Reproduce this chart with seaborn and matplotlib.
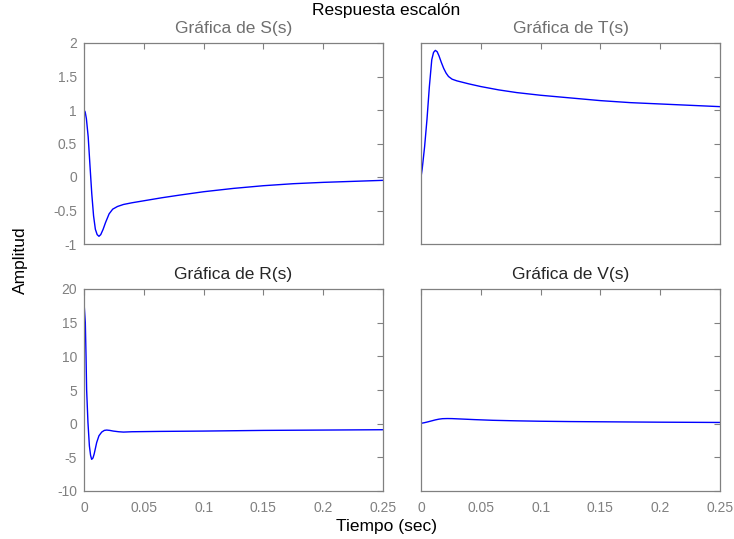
import numpy as np
import seaborn as sns
import matplotlib
matplotlib.use("Agg")
import matplotlib.pyplot as plt

t_s = [0, 0.001, 0.002, 0.0035, 0.005, 0.0065, 0.008, 0.0095, 0.011, 0.0125,
       0.014, 0.016, 0.018, 0.021, 0.024, 0.028, 0.033, 0.04, 0.05, 0.065,
       0.08, 0.1, 0.125, 0.15, 0.175, 0.2, 0.225, 0.25]
y_s = [1.0, 0.97, 0.87, 0.6, 0.17, -0.25, -0.58, -0.78, -0.86, -0.885,
       -0.86, -0.78, -0.68, -0.55, -0.48, -0.44, -0.41, -0.385, -0.355, -0.31,
       -0.27, -0.22, -0.17, -0.13, -0.10, -0.08, -0.065, -0.05]

t_t = [0, 0.001, 0.003, 0.005, 0.007, 0.009, 0.0105, 0.012, 0.0135, 0.015,
       0.017, 0.019, 0.021, 0.023, 0.026, 0.03, 0.04, 0.05, 0.065, 0.08,
       0.1, 0.125, 0.15, 0.175, 0.2, 0.225, 0.25]
y_t = [0, 0.12, 0.45, 0.86, 1.35, 1.75, 1.86, 1.89, 1.87, 1.81,
       1.71, 1.62, 1.55, 1.50, 1.46, 1.435, 1.39, 1.35, 1.30, 1.26,
       1.22, 1.18, 1.14, 1.11, 1.09, 1.07, 1.05]

t_r = [0, 0.0011, 0.0017, 0.0022, 0.0033, 0.0045, 0.0055, 0.0064, 0.0075,
       0.0085, 0.0095, 0.0106, 0.0125, 0.0148, 0.017, 0.019, 0.0215, 0.0245,
       0.029, 0.033, 0.04, 0.063, 0.1, 0.15, 0.2, 0.25]
y_r = [18.0, 15.0, 10.0, 5.0, 0.2, -3.3, -4.7, -5.3, -5.1,
       -4.5, -3.7, -2.8, -1.8, -1.25, -1.0, -0.95, -1.0, -1.1,
       -1.2, -1.25, -1.2, -1.15, -1.1, -1.0, -0.95, -0.9]

t_v = [0, 0.003, 0.006, 0.009, 0.012, 0.015, 0.018, 0.022, 0.026, 0.035,
       0.045, 0.06, 0.08, 0.1, 0.125, 0.15, 0.175, 0.2, 0.225, 0.25]
y_v = [0.05, 0.15, 0.28, 0.42, 0.56, 0.67, 0.74, 0.76, 0.75, 0.68,
       0.6, 0.5, 0.42, 0.36, 0.31, 0.28, 0.25, 0.22, 0.2, 0.18]

x_ticks = [0, 0.05, 0.1, 0.15, 0.2, 0.25]
x_labels = ["0", "0.05", "0.1", "0.15", "0.2", "0.25"]
top_ticks = [-1, -0.5, 0, 0.5, 1, 1.5, 2]
top_labels = ["-1", "-0.5", "0", "0.5", "1", "1.5", "2"]
bot_ticks = [-10, -5, 0, 5, 10, 15, 20]
bot_labels = ["-10", "-5", "0", "5", "10", "15", "20"]

sns.set_theme(style="white")
plt.rcParams["font.family"] = ["Liberation Sans", "DejaVu Sans"]

gris = "#808080"
fig = plt.figure(figsize=(7.34, 5.39), dpi=100)

W, H = 734, 539
def caja(x0, x1, y0, y1):
    return [x0 / W, 1 - y1 / H, (x1 - x0) / W, (y1 - y0) / H]

paneles = [
    (caja(84, 383, 43, 244), t_s, y_s, "Gráfica de S(s)", "#6f6f6f", True, False),
    (caja(421, 720, 43, 244), t_t, y_t, "Gráfica de T(s)", "#6f6f6f", False, False),
    (caja(84, 383, 289, 491), t_r, y_r, "Gráfica de R(s)", "#262626", True, True),
    (caja(421, 720, 289, 491), t_v, y_v, "Gráfica de V(s)", "#262626", False, True),
]

for i, (pos, tx, ty, titulo, ctit, ylab, xlab) in enumerate(paneles):
    ax = fig.add_axes(pos)
    sns.lineplot(x=tx, y=ty, ax=ax, color="#0000ff", linewidth=1.0, estimator=None)
    ax.set_xlim(0, 0.25)
    if i < 2:
        ax.set_ylim(-1, 2)
        ax.set_yticks(top_ticks)
        ax.set_yticklabels(top_labels if ylab else [])
    else:
        ax.set_ylim(-10, 20)
        ax.set_yticks(bot_ticks)
        ax.set_yticklabels(bot_labels if ylab else [])
    ax.set_xticks(x_ticks)
    ax.set_xticklabels(x_labels if xlab else [])
    ax.tick_params(direction="in", length=4, width=0.8, color=gris,
                   labelcolor=gris, labelsize=10, top=True, right=True)
    ax.tick_params(axis="x", pad=7)
    ax.tick_params(axis="y", pad=5)
    for sp in ax.spines.values():
        sp.set_color(gris)
        sp.set_linewidth(0.9)
    ax.set_title(titulo, color=ctit, fontsize=12.5, pad=7)

fig.text(386 / W, 1 - 11 / H, "Respuesta escalón", ha="center", va="center",
         fontsize=12.5, color="black")
fig.text(20 / W, 1 - 260 / H, "Amplitud", ha="center", va="center",
         rotation=90, fontsize=12.5, color="black")
fig.text(387 / W, 1 - 526 / H, "Tiempo (sec)", ha="center", va="center",
         fontsize=12.5, color="black")

fig.savefig("out.png", dpi=100)
